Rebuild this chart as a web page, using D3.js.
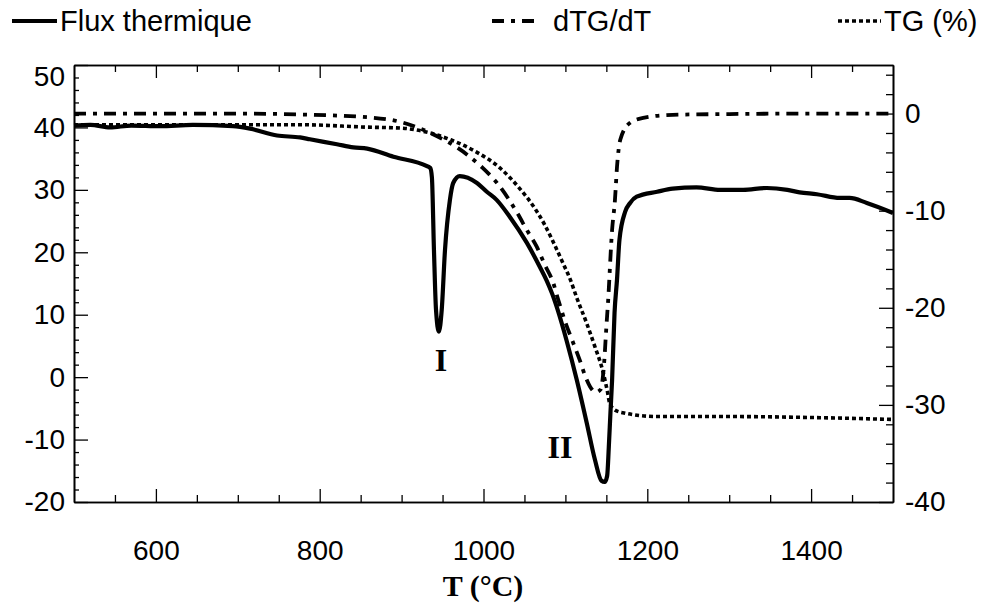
<!DOCTYPE html>
<html>
<head>
<meta charset="utf-8">
<script src="https://cdn.jsdelivr.net/npm/d3@7"></script>
<style>
  body { margin: 0; background: #fff; }
  svg { display: block; }
  text { font-family: "Liberation Sans", Arial, sans-serif; fill: #000; }
</style>
</head>
<body>
<script>
// ---------- DATA ----------
const seriesNames = ["Flux thermique", "dTG/dT", "TG (%)"];

// Flux thermique (left axis)
const fluxT = [500,520,544,570,605,645,694,715,748,776,788,821,841,858,890,931,935,937,939.5,942,945.5,949,953,959,963,971,992,1004,1016,1032,1053,1069,1077,1084,1090,1102,1114,1126,1136,1144,1148,1151,1153,1155,1157,1160,1163,1166,1173,1179,1187,1212,1231,1260,1289,1317,1346,1371,1386,1407,1435,1447,1468,1500];
const fluxV = [40.3,40.4,40.0,40.3,40.2,40.4,40.2,39.8,38.7,38.4,38.1,37.3,36.8,36.6,35.3,33.8,33.5,32.0,20.4,10.8,7.3,10.8,20.4,28.4,31.1,32.2,31.1,29.7,28.4,25.7,21.5,17.6,15.5,13.3,11.0,5.6,-0.5,-7.3,-13.2,-16.6,-16.8,-15.8,-11.2,-5.7,-0.5,10.3,15.6,22.0,26.5,27.9,28.9,29.7,30.2,30.4,30.0,30.0,30.3,30.0,29.6,29.3,28.7,28.7,27.9,26.3];

// dTG/dT (drawn on right axis scale)
const dtgT = [500,600,700,776,861,898,935,981,999,1016,1041,1053,1065,1075,1085,1091,1100,1109,1118,1124,1130,1137,1143,1147,1150,1152,1157,1160.5,1163,1167,1179,1195,1231,1300,1400,1500];
const dtgV = [0.0,0.0,0.0,-0.1,-0.4,-0.85,-2.0,-4.3,-5.6,-7.1,-10.2,-12.0,-13.7,-15.6,-17.4,-19.1,-21.5,-23.5,-25.5,-27.0,-28.1,-28.7,-28.4,-26.0,-22.0,-19.5,-12.0,-8.9,-5.5,-2.7,-0.95,-0.45,-0.13,-0.05,0,0];

// TG (%) (right axis)
const tgT = [500,600,700,776,858,900,930,960,990,1020,1045,1063,1075,1085,1097,1106,1114,1126,1136,1145,1151,1154,1160,1170,1212,1301,1400,1500];
const tgV = [-1.15,-1.15,-1.15,-1.15,-1.4,-1.5,-1.9,-2.7,-3.9,-5.6,-7.8,-9.8,-11.5,-13.2,-15.4,-17.1,-19.0,-21.6,-24.0,-26.3,-28.5,-29.8,-30.5,-30.8,-31.2,-31.2,-31.3,-31.5];

// Ticks
const xMajorTicks = [600,800,1000,1200,1400];
const leftTicks = [-20,-10,0,10,20,30,40,50];
const rightTicks = [-40,-30,-20,-10,0];
const xLabel = "T (°C)";
const peakLabels = [{t:945.5, v:7.3, text:"I"}, {t:1146, v:-16.8, text:"II"}];

// ---------- CHART ----------
const W = 986, H = 604;
const svg = d3.select("body").append("svg").attr("width", W).attr("height", H);
svg.append("rect").attr("width", W).attr("height", H).attr("fill", "#fff");

const x = d3.scaleLinear().domain([500,1500]).range([74,893]);
const yL = d3.scaleLinear().domain([-20,50]).range([502,65]);
const yR = d3.scaleLinear().domain([-40,5]).range([502,65]);

const fmt = d => String(d);
const axStyle = g => {
  g.selectAll("path.domain").attr("stroke","#000").attr("stroke-width",1.6);
  g.selectAll(".tick line").attr("stroke","#000").attr("stroke-width",1.3);
  g.selectAll("text").style("font-family","'Liberation Sans', Arial, sans-serif").attr("font-size",28).attr("fill","#000");
};

const xMinor = d3.range(550,1500,50).filter(v => !xMajorTicks.includes(v));
const leftMinor = d3.range(-18,50,2).filter(v => v % 10 !== 0);
const rightMinor = d3.range(-38,5,2).filter(v => v % 10 !== 0);

// bottom
svg.append("g").attr("transform","translate(0,502)")
  .call(d3.axisBottom(x).tickValues(xMinor).tickSizeInner(-7).tickSizeOuter(0).tickFormat(""))
  .call(axStyle);
svg.append("g").attr("transform","translate(0,502)")
  .call(d3.axisBottom(x).tickValues(xMajorTicks).tickSizeInner(-13).tickSizeOuter(0).tickPadding(38).tickFormat(fmt))
  .call(axStyle);
// top
svg.append("g").attr("transform","translate(0,65)")
  .call(d3.axisTop(x).tickValues(xMinor).tickSizeInner(-7).tickSizeOuter(0).tickFormat(""))
  .call(axStyle);
svg.append("g").attr("transform","translate(0,65)")
  .call(d3.axisTop(x).tickValues(xMajorTicks).tickSizeInner(-13).tickSizeOuter(0).tickFormat(""))
  .call(axStyle);
// left
svg.append("g").attr("transform","translate(74,0)")
  .call(d3.axisLeft(yL).tickValues(leftMinor).tickSizeInner(-5).tickSizeOuter(0).tickFormat(""))
  .call(axStyle);
const gl = svg.append("g").attr("transform","translate(74,0)")
  .call(d3.axisLeft(yL).tickValues(leftTicks).tickSizeInner(-14).tickSizeOuter(0).tickPadding(9).tickFormat(fmt))
  .call(axStyle);
gl.selectAll(".tick").filter(d => d === 50).select("text").attr("dy","0.72em");
// right
svg.append("g").attr("transform","translate(893,0)")
  .call(d3.axisRight(yR).tickValues(rightMinor).tickSizeInner(-7).tickSizeOuter(0).tickFormat(""))
  .call(axStyle);
svg.append("g").attr("transform","translate(893,0)")
  .call(d3.axisRight(yR).tickValues(rightTicks).tickSizeInner(-14).tickSizeOuter(0).tickPadding(12).tickFormat(fmt))
  .call(axStyle);

// lines
const zip = (a,b) => a.map((t,i) => [t, b[i]]);
const lineL = d3.line().x(d => x(d[0])).y(d => yL(d[1])).curve(d3.curveMonotoneX);
const lineR = d3.line().x(d => x(d[0])).y(d => yR(d[1])).curve(d3.curveMonotoneX);

svg.append("path").datum(zip(tgT,tgV)).attr("d", lineR)
  .attr("fill","none").attr("stroke","#000").attr("stroke-width",3.6).attr("stroke-dasharray","4,3");
svg.append("path").datum(zip(dtgT,dtgV)).attr("d", lineR)
  .attr("fill","none").attr("stroke","#000").attr("stroke-width",3.8).attr("stroke-dasharray","12,7,4,7");
svg.append("path").datum(zip(fluxT,fluxV)).attr("d", lineL)
  .attr("fill","none").attr("stroke","#000").attr("stroke-width",4.2).attr("stroke-linejoin","round");

// peak labels
svg.selectAll("text.peak").data(peakLabels).join("text").attr("class","peak")
  .attr("x", (d,i) => x(d.t) + (i === 0 ? 2 : -43))
  .attr("y", (d,i) => yL(d.v) + (i === 0 ? 39 : -24))
  .attr("text-anchor","middle")
  .style("font-family","'Liberation Serif','Times New Roman',serif")
  .attr("font-weight","bold").attr("font-size",32)
  .text(d => d.text);

// x label
svg.append("text").attr("x", 483).attr("y", 596).attr("text-anchor","middle")
  .style("font-family","'Liberation Serif','Times New Roman',serif")
  .attr("font-weight","bold").attr("font-size",30).text(xLabel);

// legend
const legend = [
  {name: seriesNames[0], x0: 12, x1: 57, tx: 60, dash: null, w: 4},
  {name: seriesNames[1], x0: 492, x1: 541, tx: 553, dash: "12,7,4,7", w: 3.8},
  {name: seriesNames[2], x0: 838, x1: 881, tx: 884, dash: "4,3", w: 3.6}
];
const lg = svg.append("g");
legend.forEach(l => {
  lg.append("line").attr("x1", l.x0).attr("x2", l.x1).attr("y1", 21).attr("y2", 21)
    .attr("stroke","#000").attr("stroke-width", l.w).attr("stroke-dasharray", l.dash);
  lg.append("text").attr("x", l.tx).attr("y", 31).attr("font-size", 29).text(l.name);
});
</script>
</body>
</html>
